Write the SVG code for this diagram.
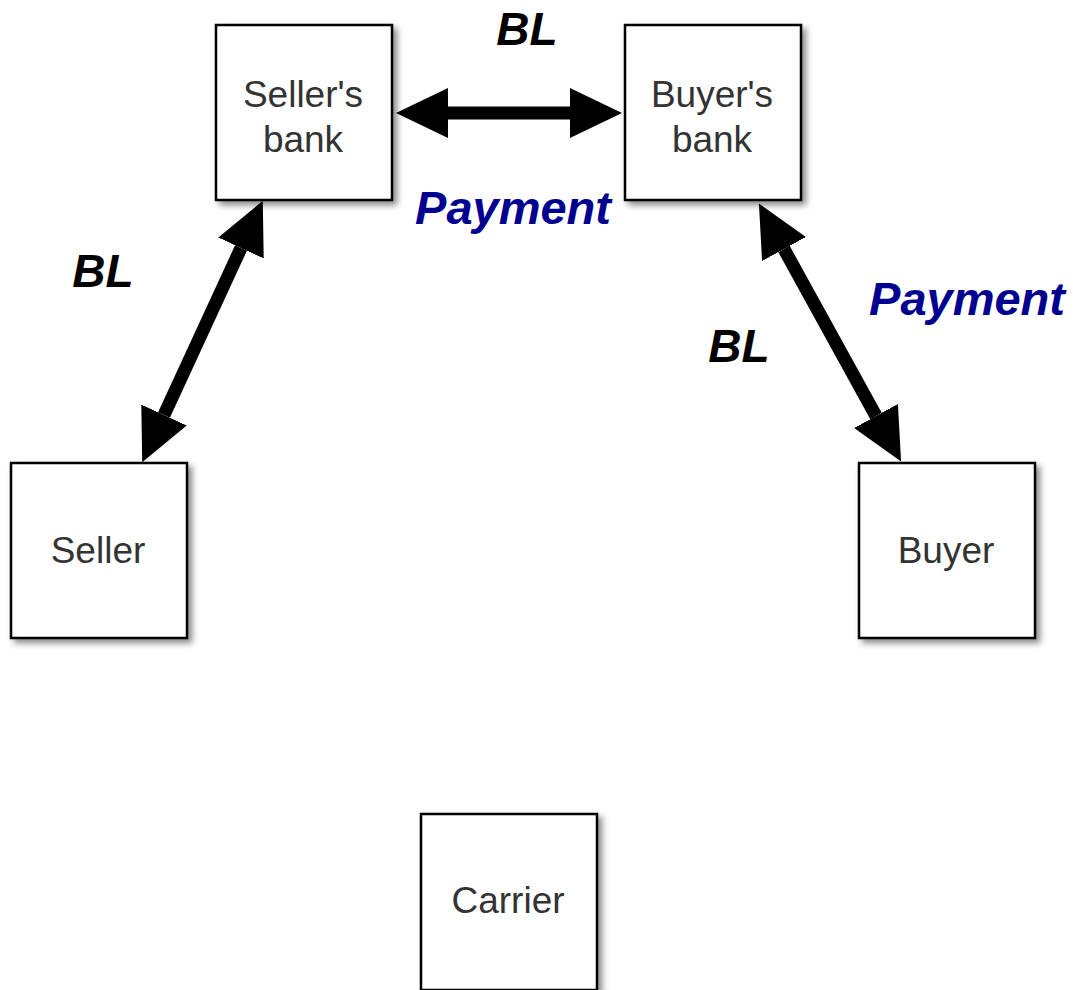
<svg xmlns="http://www.w3.org/2000/svg" width="1073" height="990" viewBox="0 0 1073 990">
<style>
.box{fill:#fff;stroke:#000;stroke-width:2.5;filter:url(#sh)}
.nl{font-family:"Liberation Sans",Arial,sans-serif;font-size:37px;fill:#333;text-anchor:middle}
.bl{font-family:"Liberation Sans",Arial,sans-serif;font-size:46px;font-weight:bold;font-style:italic;fill:#000;text-anchor:middle}
.pay{font-family:"Liberation Sans",Arial,sans-serif;font-size:47px;font-weight:bold;font-style:italic;fill:#000090;text-anchor:middle}
.conn{stroke:#000;stroke-width:13;fill:none;marker-start:url(#ah);marker-end:url(#ah)}
</style>
<defs>
<filter id="sh" x="-10%" y="-10%" width="130%" height="130%">
<feDropShadow dx="4" dy="4" stdDeviation="3" flood-color="#000" flood-opacity="0.45"/>
</filter>
<marker id="ah" markerUnits="userSpaceOnUse" markerWidth="54" markerHeight="50" refX="0" refY="25" orient="auto-start-reverse" viewBox="0 0 54 50">
<path d="M0,0 L52,25 L0,50 z" fill="#000"/>
</marker>
</defs>
<rect width="1073" height="990" fill="#fff"/>
<g id="connectors">
<line class="conn" x1="448" y1="113" x2="570" y2="113"/>
<line class="conn" x1="241" y1="248" x2="164" y2="415"/>
<line class="conn" x1="784" y1="249" x2="876" y2="416"/>
</g>
<g id="sellers-bank">
<rect class="box" x="216" y="25" width="176" height="175"/>
<text class="nl" x="303" y="107">Seller's</text>
<text class="nl" x="303" y="152">bank</text>
</g>
<g id="buyers-bank">
<rect class="box" x="625" y="25" width="176" height="175"/>
<text class="nl" x="712" y="107">Buyer's</text>
<text class="nl" x="712" y="152">bank</text>
</g>
<g id="seller">
<rect class="box" x="11" y="463" width="176" height="175"/>
<text class="nl" x="98" y="563">Seller</text>
</g>
<g id="buyer">
<rect class="box" x="859" y="463" width="176" height="175"/>
<text class="nl" x="946" y="563">Buyer</text>
</g>
<g id="carrier">
<rect class="box" x="421" y="814" width="176" height="176"/>
<text class="nl" x="508" y="913">Carrier</text>
</g>
<g id="labels">
<text class="bl" x="527" y="45">BL</text>
<text class="pay" x="513" y="224">Payment</text>
<text class="bl" x="103" y="287">BL</text>
<text class="pay" x="967" y="315">Payment</text>
<text class="bl" x="739" y="362">BL</text>
</g>
</svg>
